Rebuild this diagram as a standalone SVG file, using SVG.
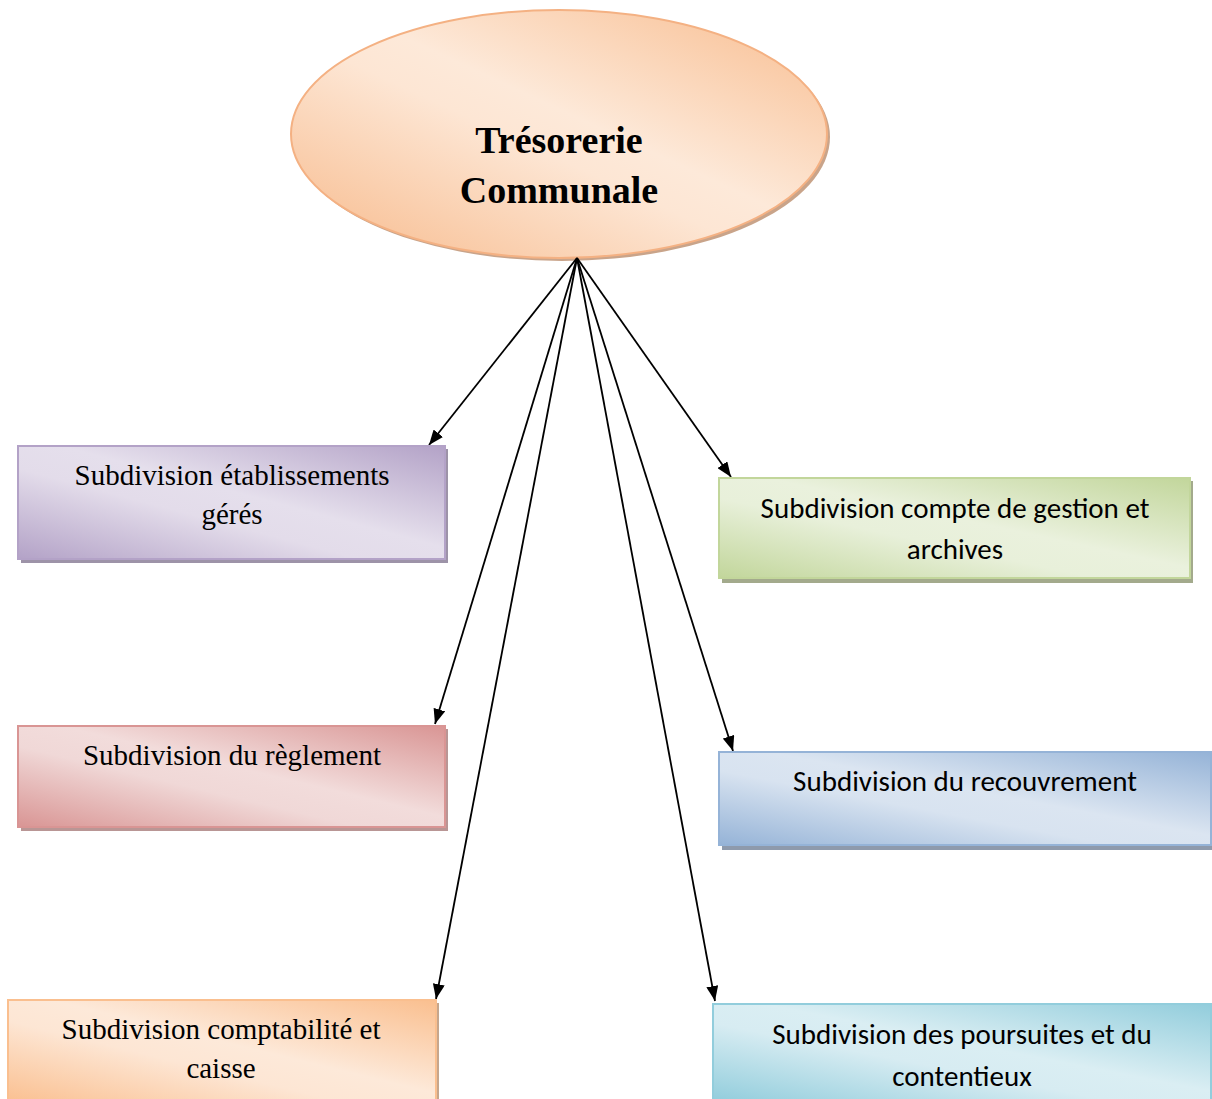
<svg xmlns="http://www.w3.org/2000/svg" width="1212" height="1099" viewBox="0 0 1212 1099">
  <defs>
    <style>
      .serif { font-family: "Liberation Serif", "Times New Roman", serif; fill: #000; }
      .sans { font-family: "Carlito", "Lato", "Liberation Sans", sans-serif; fill: #000; }
      .title { font-size: 38px; font-weight: bold; }
      .lbl-serif { font-size: 29px; }
      .lbl-sans { font-size: 29px; }
      .conn { stroke: #000; stroke-width: 1.8; fill: none; marker-end: url(#arrow); }
    </style>
    <marker id="arrow" viewBox="0 0 15 12" refX="15" refY="6" markerWidth="15" markerHeight="12" markerUnits="userSpaceOnUse" orient="auto">
      <path d="M0,0 L15,6 L0,12 z" fill="#000"/>
    </marker>
    <linearGradient id="gEllipse" x1="1" y1="0" x2="0" y2="1">
      <stop offset="0" stop-color="#f8bc8e"/>
      <stop offset="0.45" stop-color="#fde9d9"/>
      <stop offset="0.55" stop-color="#fde6d4"/>
      <stop offset="1" stop-color="#f7b98a"/>
    </linearGradient>
    <linearGradient id="gPurple" x1="1" y1="0" x2="0" y2="1">
      <stop offset="0" stop-color="#b3a2c7"/>
      <stop offset="0.45" stop-color="#e5dfec"/>
      <stop offset="0.6" stop-color="#e3dcea"/>
      <stop offset="1" stop-color="#b3a2c7"/>
    </linearGradient>
    <linearGradient id="gRed" x1="1" y1="0" x2="0" y2="1">
      <stop offset="0" stop-color="#d99594"/>
      <stop offset="0.45" stop-color="#f2dcdb"/>
      <stop offset="0.6" stop-color="#f0d8d7"/>
      <stop offset="1" stop-color="#d99594"/>
    </linearGradient>
    <linearGradient id="gOrange" x1="1" y1="0" x2="0" y2="1">
      <stop offset="0" stop-color="#fabf8f"/>
      <stop offset="0.45" stop-color="#fde9d9"/>
      <stop offset="0.6" stop-color="#fde6d4"/>
      <stop offset="1" stop-color="#fabf8f"/>
    </linearGradient>
    <linearGradient id="gGreen" x1="1" y1="0" x2="0" y2="1">
      <stop offset="0" stop-color="#c2d69b"/>
      <stop offset="0.45" stop-color="#eaf1dd"/>
      <stop offset="0.6" stop-color="#e8f0da"/>
      <stop offset="1" stop-color="#c2d69b"/>
    </linearGradient>
    <linearGradient id="gBlue" x1="1" y1="0" x2="0" y2="1">
      <stop offset="0" stop-color="#95b3d7"/>
      <stop offset="0.45" stop-color="#dbe5f1"/>
      <stop offset="0.6" stop-color="#d8e3f0"/>
      <stop offset="1" stop-color="#95b3d7"/>
    </linearGradient>
    <linearGradient id="gCyan" x1="1" y1="0" x2="0" y2="1">
      <stop offset="0" stop-color="#92cddc"/>
      <stop offset="0.45" stop-color="#daeef3"/>
      <stop offset="0.6" stop-color="#d7ecf2"/>
      <stop offset="1" stop-color="#92cddc"/>
    </linearGradient>
  </defs>

  <rect width="1212" height="1099" fill="#fff"/>

  <!-- Root node -->
  <g id="tresorerie">
    <ellipse cx="562" cy="137" rx="268" ry="124" fill="#c9a48a"/>
    <ellipse cx="559" cy="134" rx="268" ry="124" fill="url(#gEllipse)" stroke="#f4b183" stroke-width="2"/>
    <text class="serif title" x="559" y="153" text-anchor="middle">Trésorerie</text>
    <text class="serif title" x="559" y="203" text-anchor="middle">Communale</text>
  </g>

  <!-- Links from the root to each subdivision -->
  <g id="connectors">
    <line class="conn" x1="577" y1="258" x2="429" y2="445"/>
    <line class="conn" x1="577" y1="258" x2="435" y2="724"/>
    <line class="conn" x1="577" y1="258" x2="436" y2="999"/>
    <line class="conn" x1="577" y1="258" x2="731" y2="477"/>
    <line class="conn" x1="577" y1="258" x2="733" y2="751"/>
    <line class="conn" x1="577" y1="258" x2="715" y2="1001"/>
  </g>

  <g id="etablissements">
    <rect x="21" y="449" width="427" height="114" fill="#9d93a8"/>
    <rect x="18" y="446" width="427" height="113" fill="url(#gPurple)" stroke="#b3a2c7" stroke-width="2"/>
    <text class="serif lbl-serif" x="232" y="485" text-anchor="middle">Subdivision établissements</text>
    <text class="serif lbl-serif" x="232" y="524" text-anchor="middle">gérés</text>
  </g>

  <g id="reglement">
    <rect x="21" y="729" width="427" height="102" fill="#b99695"/>
    <rect x="18" y="726" width="427" height="101" fill="url(#gRed)" stroke="#d99594" stroke-width="2"/>
    <text class="serif lbl-serif" x="232" y="765" text-anchor="middle">Subdivision du règlement</text>
  </g>

  <g id="comptabilite">
    <rect x="11" y="1003" width="428" height="100" fill="#c6a68c"/>
    <rect x="8" y="1000" width="428" height="104" fill="url(#gOrange)" stroke="#fabf8f" stroke-width="2"/>
    <text class="serif lbl-serif" x="221" y="1039" text-anchor="middle">Subdivision comptabilité et</text>
    <text class="serif lbl-serif" x="221" y="1078" text-anchor="middle">caisse</text>
  </g>

  <g id="gestion">
    <rect x="722" y="481" width="471" height="102" fill="#a3aa8c"/>
    <rect x="719" y="478" width="471" height="100" fill="url(#gGreen)" stroke="#c2d69b" stroke-width="2"/>
    <text class="sans lbl-sans" x="955" y="518" text-anchor="middle">Subdivision compte de gestion et</text>
    <text class="sans lbl-sans" x="955" y="559" text-anchor="middle">archives</text>
  </g>

  <g id="recouvrement">
    <rect x="722" y="755" width="492" height="95" fill="#8e9aac"/>
    <rect x="719" y="752" width="492" height="93" fill="url(#gBlue)" stroke="#95b3d7" stroke-width="2"/>
    <text class="sans lbl-sans" x="965" y="791" text-anchor="middle">Subdivision du recouvrement</text>
  </g>

  <g id="poursuites">
    <rect x="716" y="1007" width="498" height="95" fill="#8fb3bd"/>
    <rect x="713" y="1004" width="498" height="97" fill="url(#gCyan)" stroke="#92cddc" stroke-width="2"/>
    <text class="sans lbl-sans" x="962" y="1044" text-anchor="middle">Subdivision des poursuites et du</text>
    <text class="sans lbl-sans" x="962" y="1086" text-anchor="middle">contentieux</text>
  </g>
</svg>
